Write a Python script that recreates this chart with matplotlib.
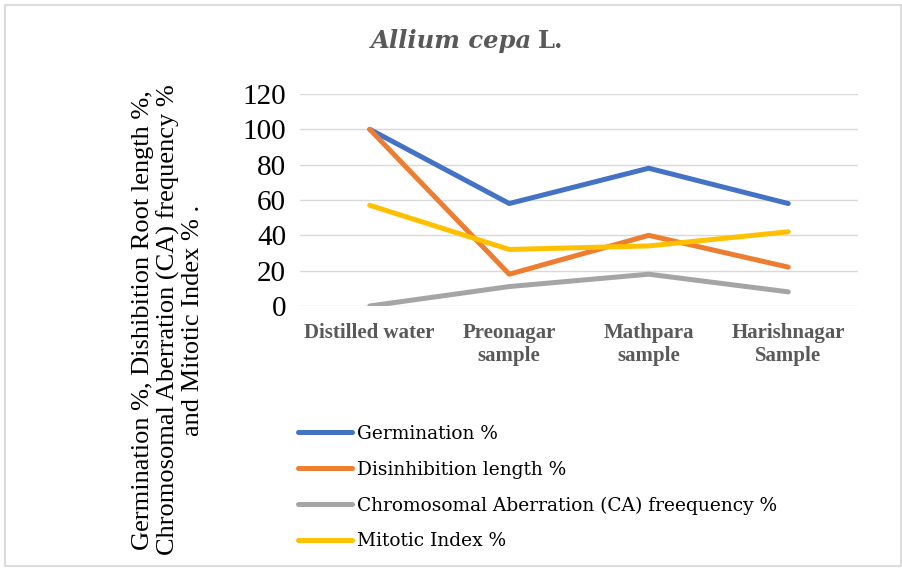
import matplotlib
matplotlib.use("Agg")
import matplotlib.pyplot as plt
from matplotlib.patches import Rectangle

# Samples along the x axis
categories = ["Distilled water", "Preonagar\nsample", "Mathpara\nsample", "Harishnagar\nSample"]

# Measured percentages per sample
germination = [100, 58, 78, 58]
disinhibition = [100, 18, 40, 22]
ca_frequency = [0, 11, 18, 8]
mitotic_index = [57, 32, 34, 42]

series_labels = [
    "Germination %",
    "Disinhibition length %",
    "Chromosomal Aberration (CA) freequency %",
    "Mitotic Index %",
]
series_colors = ["#4472C4", "#ED7D31", "#A5A5A5", "#FFC000"]

y_ticks = [0, 20, 40, 60, 80, 100, 120]

W, H = 902, 568
fig = plt.figure(figsize=(W / 100, H / 100), dpi=100)
fig.patch.set_facecolor("white")

# thin light frame around the whole figure
fig.patches.append(Rectangle((5 / W, 2 / H), 896 / W, (H - 7) / H,
                             transform=fig.transFigure, fill=False,
                             edgecolor="#DCDCDC", linewidth=1.5))

ax = fig.add_axes([300 / W, 1 - 306 / H, 558 / W, 212 / H])
x = list(range(len(categories)))
for vals, lab, col in zip([germination, disinhibition, ca_frequency, mitotic_index],
                          series_labels, series_colors):
    ax.plot(x, vals, color=col, linewidth=3.6, label=lab, solid_capstyle="round",
            solid_joinstyle="round", zorder=3)

ax.set_xlim(-0.5, len(categories) - 0.5)
ax.set_ylim(0, 120)
ax.set_yticks(y_ticks)
ax.set_yticklabels([str(v) for v in y_ticks], family="Liberation Serif",
                   fontsize=21, color="#000000")
ax.set_xticks(x)
ax.set_xticklabels(categories, family="Liberation Serif", fontweight="bold",
                   fontsize=15, color="#595959", linespacing=1.25)
ax.tick_params(axis="both", length=0)
ax.tick_params(axis="y", pad=10)
ax.tick_params(axis="x", pad=12)
for s in ax.spines.values():
    s.set_visible(False)
ax.grid(axis="y", color="#D9D9D9", linewidth=1.0, zorder=0)
ax.set_axisbelow(True)

# title: italic species name followed by upright authority
fig.text(532 / W, 1 - 41 / H, "Allium cepa", family="DejaVu Serif",
         style="italic", fontweight="bold", fontsize=17.5, color="#595959",
         ha="right", va="center")
fig.text(538 / W, 1 - 41 / H, "L.", family="DejaVu Serif",
         fontweight="bold", fontsize=17.5, color="#595959",
         ha="left", va="center")

# y-axis label
fig.text(168 / W, 1 - 320 / H,
         "Germination %, Dishibition Root length %,\nChromosomal Aberration (CA) frequency %\nand Mitotic Index % .",
         rotation=90, ha="center", va="center", family="Liberation Serif",
         fontsize=19, linespacing=1.15, color="#000000")

leg = ax.legend(loc="upper left", bbox_to_anchor=(298 / W, 1 - 425 / H),
                bbox_transform=fig.transFigure, frameon=False,
                prop={"family": "DejaVu Serif", "size": 13.4},
                handlelength=2.9, handletextpad=0.25, labelspacing=0.95,
                borderpad=0, borderaxespad=0)
for txt in leg.get_texts():
    txt.set_color("#000000")

fig.savefig("out.png", dpi=100)
